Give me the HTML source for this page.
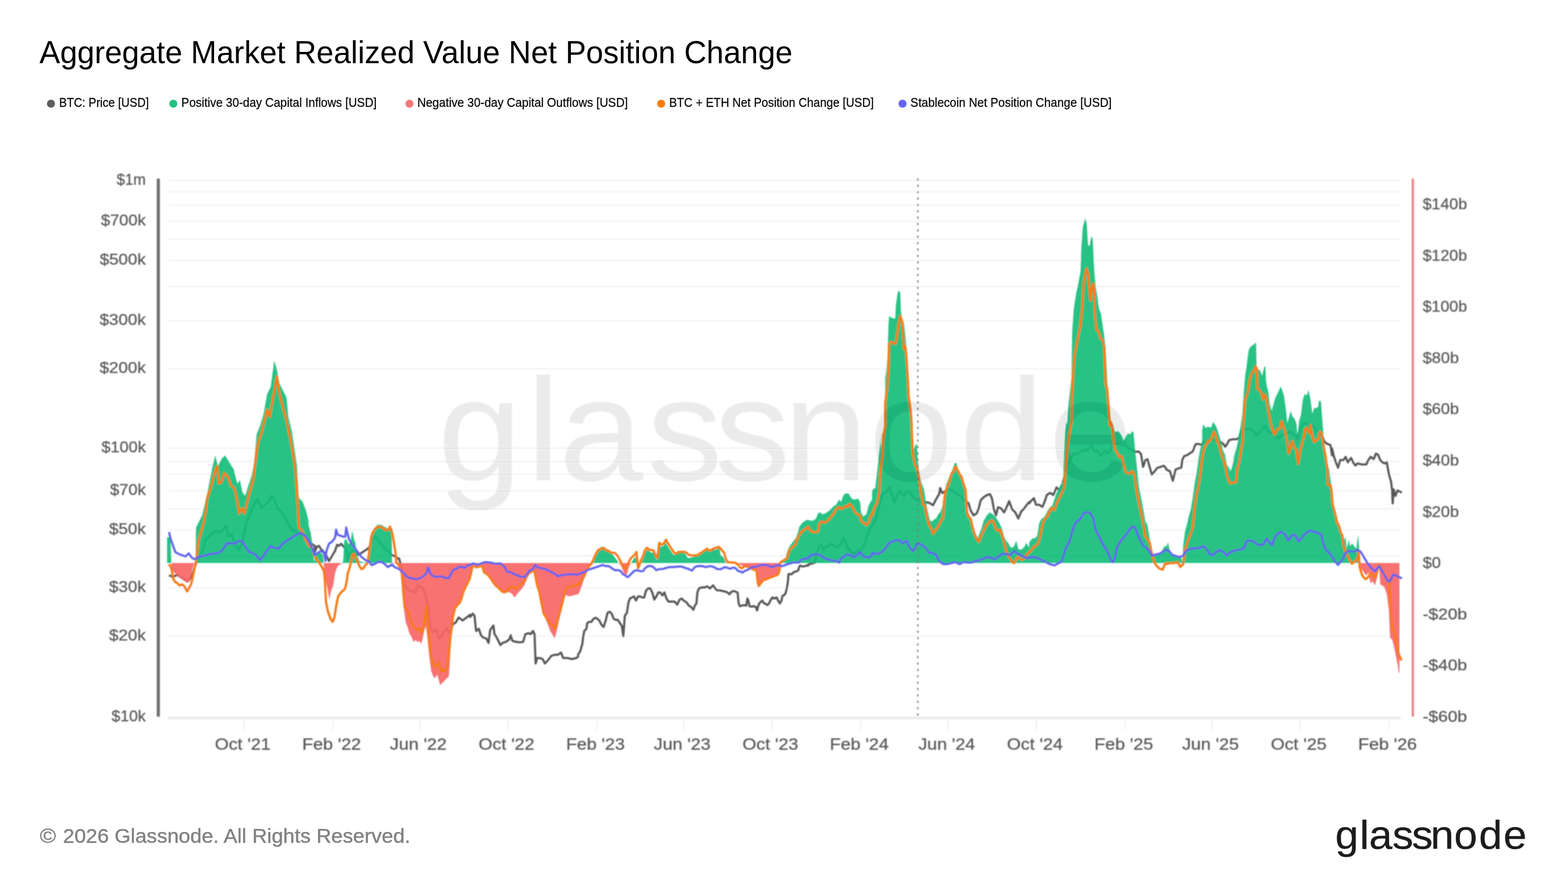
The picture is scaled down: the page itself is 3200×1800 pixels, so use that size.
<!DOCTYPE html><html><head><meta charset="utf-8"><style>html,body{margin:0;padding:0;background:#fff;}svg{display:block;}</style></head><body><svg width="3200" height="1800" viewBox="0 0 3200 1800">
<rect width="3200" height="1800" fill="#ffffff"/>
<text x="80.5" y="129.2" font-family="Liberation Sans, sans-serif" font-size="64.8" fill="#000" textLength="1537" lengthAdjust="spacingAndGlyphs">Aggregate Market Realized Value Net Position Change</text>
<circle cx="104" cy="211.6" r="8.2" fill="#5d5d5d"/>
<text x="120.7" y="217.7" font-family="Liberation Sans, sans-serif" font-size="25" fill="#0a0a0a" stroke="#0a0a0a" stroke-width="0.35" textLength="183.0" lengthAdjust="spacingAndGlyphs">BTC: Price [USD]</text>
<circle cx="353.8" cy="211.6" r="8.2" fill="#22c283"/>
<text x="370.1" y="217.7" font-family="Liberation Sans, sans-serif" font-size="25" fill="#0a0a0a" stroke="#0a0a0a" stroke-width="0.35" textLength="398.6" lengthAdjust="spacingAndGlyphs">Positive 30-day Capital Inflows [USD]</text>
<circle cx="835.7" cy="211.6" r="8.2" fill="#f27a7a"/>
<text x="851.7" y="217.7" font-family="Liberation Sans, sans-serif" font-size="25" fill="#0a0a0a" stroke="#0a0a0a" stroke-width="0.35" textLength="429.7" lengthAdjust="spacingAndGlyphs">Negative 30-day Capital Outflows [USD]</text>
<circle cx="1349.3" cy="211.6" r="8.2" fill="#fb7a12"/>
<text x="1365.7" y="217.7" font-family="Liberation Sans, sans-serif" font-size="25" fill="#0a0a0a" stroke="#0a0a0a" stroke-width="0.35" textLength="417.6" lengthAdjust="spacingAndGlyphs">BTC + ETH Net Position Change [USD]</text>
<circle cx="1841.9" cy="211.6" r="8.2" fill="#6464ee"/>
<text x="1858.1" y="217.7" font-family="Liberation Sans, sans-serif" font-size="25" fill="#0a0a0a" stroke="#0a0a0a" stroke-width="0.35" textLength="410.6" lengthAdjust="spacingAndGlyphs">Stablecoin Net Position Change [USD]</text>
<defs><filter id="bl" filterUnits="userSpaceOnUse" x="150" y="300" width="2950" height="1280"><feGaussianBlur stdDeviation="1.0"/></filter></defs><g filter="url(#bl)">
<line x1="343.5" x2="2859.5" y1="1463.2" y2="1463.2" stroke="#eff0f4" stroke-width="2.4"/>
<line x1="343.5" x2="2859.5" y1="1298.4" y2="1298.4" stroke="#eff0f4" stroke-width="2.4"/>
<line x1="343.5" x2="2859.5" y1="1199.5" y2="1199.5" stroke="#eff0f4" stroke-width="2.4"/>
<line x1="343.5" x2="2859.5" y1="1134.3" y2="1134.3" stroke="#eff0f4" stroke-width="2.4"/>
<line x1="343.5" x2="2859.5" y1="1081.1" y2="1081.1" stroke="#eff0f4" stroke-width="2.4"/>
<line x1="343.5" x2="2859.5" y1="1038.2" y2="1038.2" stroke="#eff0f4" stroke-width="2.4"/>
<line x1="343.5" x2="2859.5" y1="1001.9" y2="1001.9" stroke="#eff0f4" stroke-width="2.4"/>
<line x1="343.5" x2="2859.5" y1="967.9" y2="967.9" stroke="#eff0f4" stroke-width="2.4"/>
<line x1="343.5" x2="2859.5" y1="941.8" y2="941.8" stroke="#eff0f4" stroke-width="2.4"/>
<line x1="343.5" x2="2859.5" y1="914.5" y2="914.5" stroke="#eff0f4" stroke-width="2.4"/>
<line x1="343.5" x2="2859.5" y1="752.6" y2="752.6" stroke="#eff0f4" stroke-width="2.4"/>
<line x1="343.5" x2="2859.5" y1="654.9" y2="654.9" stroke="#eff0f4" stroke-width="2.4"/>
<line x1="343.5" x2="2859.5" y1="584.7" y2="584.7" stroke="#eff0f4" stroke-width="2.4"/>
<line x1="343.5" x2="2859.5" y1="531.8" y2="531.8" stroke="#eff0f4" stroke-width="2.4"/>
<line x1="343.5" x2="2859.5" y1="488.3" y2="488.3" stroke="#eff0f4" stroke-width="2.4"/>
<line x1="343.5" x2="2859.5" y1="451.7" y2="451.7" stroke="#eff0f4" stroke-width="2.4"/>
<line x1="343.5" x2="2859.5" y1="418.4" y2="418.4" stroke="#eff0f4" stroke-width="2.4"/>
<line x1="343.5" x2="2859.5" y1="391.6" y2="391.6" stroke="#eff0f4" stroke-width="2.4"/>
<line x1="343.5" x2="2859.5" y1="368.2" y2="368.2" stroke="#eff0f4" stroke-width="2.4"/>
<line x1="343.5" x2="2858" y1="1465.8" y2="1465.8" stroke="#e9eaef" stroke-width="4"/>
<line x1="498.4" x2="498.4" y1="1467" y2="1490" stroke="#e9eaef" stroke-width="2"/>
<text x="495.4" y="1530" text-anchor="middle" font-family="Liberation Sans, sans-serif" font-size="33" fill="#5a5a5a" stroke="#5a5a5a" stroke-width="0.45" textLength="113.9" lengthAdjust="spacingAndGlyphs">Oct '21</text>
<line x1="679.8" x2="679.8" y1="1467" y2="1490" stroke="#e9eaef" stroke-width="2"/>
<text x="676.8" y="1530" text-anchor="middle" font-family="Liberation Sans, sans-serif" font-size="33" fill="#5a5a5a" stroke="#5a5a5a" stroke-width="0.45" textLength="120.0" lengthAdjust="spacingAndGlyphs">Feb '22</text>
<line x1="856.8" x2="856.8" y1="1467" y2="1490" stroke="#e9eaef" stroke-width="2"/>
<text x="853.8" y="1530" text-anchor="middle" font-family="Liberation Sans, sans-serif" font-size="33" fill="#5a5a5a" stroke="#5a5a5a" stroke-width="0.45" textLength="115.9" lengthAdjust="spacingAndGlyphs">Jun '22</text>
<line x1="1036.8" x2="1036.8" y1="1467" y2="1490" stroke="#e9eaef" stroke-width="2"/>
<text x="1033.8" y="1530" text-anchor="middle" font-family="Liberation Sans, sans-serif" font-size="33" fill="#5a5a5a" stroke="#5a5a5a" stroke-width="0.45" textLength="113.9" lengthAdjust="spacingAndGlyphs">Oct '22</text>
<line x1="1218.2" x2="1218.2" y1="1467" y2="1490" stroke="#e9eaef" stroke-width="2"/>
<text x="1215.2" y="1530" text-anchor="middle" font-family="Liberation Sans, sans-serif" font-size="33" fill="#5a5a5a" stroke="#5a5a5a" stroke-width="0.45" textLength="120.0" lengthAdjust="spacingAndGlyphs">Feb '23</text>
<line x1="1395.2" x2="1395.2" y1="1467" y2="1490" stroke="#e9eaef" stroke-width="2"/>
<text x="1392.2" y="1530" text-anchor="middle" font-family="Liberation Sans, sans-serif" font-size="33" fill="#5a5a5a" stroke="#5a5a5a" stroke-width="0.45" textLength="115.9" lengthAdjust="spacingAndGlyphs">Jun '23</text>
<line x1="1575.2" x2="1575.2" y1="1467" y2="1490" stroke="#e9eaef" stroke-width="2"/>
<text x="1572.2" y="1530" text-anchor="middle" font-family="Liberation Sans, sans-serif" font-size="33" fill="#5a5a5a" stroke="#5a5a5a" stroke-width="0.45" textLength="113.9" lengthAdjust="spacingAndGlyphs">Oct '23</text>
<line x1="1756.6" x2="1756.6" y1="1467" y2="1490" stroke="#e9eaef" stroke-width="2"/>
<text x="1753.6" y="1530" text-anchor="middle" font-family="Liberation Sans, sans-serif" font-size="33" fill="#5a5a5a" stroke="#5a5a5a" stroke-width="0.45" textLength="120.0" lengthAdjust="spacingAndGlyphs">Feb '24</text>
<line x1="1935.1" x2="1935.1" y1="1467" y2="1490" stroke="#e9eaef" stroke-width="2"/>
<text x="1932.1" y="1530" text-anchor="middle" font-family="Liberation Sans, sans-serif" font-size="33" fill="#5a5a5a" stroke="#5a5a5a" stroke-width="0.45" textLength="115.9" lengthAdjust="spacingAndGlyphs">Jun '24</text>
<line x1="2115.0" x2="2115.0" y1="1467" y2="1490" stroke="#e9eaef" stroke-width="2"/>
<text x="2112.0" y="1530" text-anchor="middle" font-family="Liberation Sans, sans-serif" font-size="33" fill="#5a5a5a" stroke="#5a5a5a" stroke-width="0.45" textLength="113.9" lengthAdjust="spacingAndGlyphs">Oct '24</text>
<line x1="2296.4" x2="2296.4" y1="1467" y2="1490" stroke="#e9eaef" stroke-width="2"/>
<text x="2293.4" y="1530" text-anchor="middle" font-family="Liberation Sans, sans-serif" font-size="33" fill="#5a5a5a" stroke="#5a5a5a" stroke-width="0.45" textLength="120.0" lengthAdjust="spacingAndGlyphs">Feb '25</text>
<line x1="2473.4" x2="2473.4" y1="1467" y2="1490" stroke="#e9eaef" stroke-width="2"/>
<text x="2470.4" y="1530" text-anchor="middle" font-family="Liberation Sans, sans-serif" font-size="33" fill="#5a5a5a" stroke="#5a5a5a" stroke-width="0.45" textLength="115.9" lengthAdjust="spacingAndGlyphs">Jun '25</text>
<line x1="2653.4" x2="2653.4" y1="1467" y2="1490" stroke="#e9eaef" stroke-width="2"/>
<text x="2650.4" y="1530" text-anchor="middle" font-family="Liberation Sans, sans-serif" font-size="33" fill="#5a5a5a" stroke="#5a5a5a" stroke-width="0.45" textLength="113.9" lengthAdjust="spacingAndGlyphs">Oct '25</text>
<line x1="2834.8" x2="2834.8" y1="1467" y2="1490" stroke="#e9eaef" stroke-width="2"/>
<text x="2831.8" y="1530" text-anchor="middle" font-family="Liberation Sans, sans-serif" font-size="33" fill="#5a5a5a" stroke="#5a5a5a" stroke-width="0.45" textLength="120.0" lengthAdjust="spacingAndGlyphs">Feb '26</text>
<text x="297.5" y="376.7" text-anchor="end" font-family="Liberation Sans, sans-serif" font-size="31.5" fill="#5a5a5a" stroke="#5a5a5a" stroke-width="0.45" textLength="59.5" lengthAdjust="spacingAndGlyphs">$1m</text>
<text x="297.5" y="460.2" text-anchor="end" font-family="Liberation Sans, sans-serif" font-size="31.5" fill="#5a5a5a" stroke="#5a5a5a" stroke-width="0.45" textLength="91.5" lengthAdjust="spacingAndGlyphs">$700k</text>
<text x="297.5" y="540.3" text-anchor="end" font-family="Liberation Sans, sans-serif" font-size="31.5" fill="#5a5a5a" stroke="#5a5a5a" stroke-width="0.45" textLength="94.0" lengthAdjust="spacingAndGlyphs">$500k</text>
<text x="297.5" y="663.4" text-anchor="end" font-family="Liberation Sans, sans-serif" font-size="31.5" fill="#5a5a5a" stroke="#5a5a5a" stroke-width="0.45" textLength="94.3" lengthAdjust="spacingAndGlyphs">$300k</text>
<text x="297.5" y="761.1" text-anchor="end" font-family="Liberation Sans, sans-serif" font-size="31.5" fill="#5a5a5a" stroke="#5a5a5a" stroke-width="0.45" textLength="94.3" lengthAdjust="spacingAndGlyphs">$200k</text>
<text x="297.5" y="923.0" text-anchor="end" font-family="Liberation Sans, sans-serif" font-size="31.5" fill="#5a5a5a" stroke="#5a5a5a" stroke-width="0.45" textLength="90.5" lengthAdjust="spacingAndGlyphs">$100k</text>
<text x="297.5" y="1010.4" text-anchor="end" font-family="Liberation Sans, sans-serif" font-size="31.5" fill="#5a5a5a" stroke="#5a5a5a" stroke-width="0.45" textLength="73.0" lengthAdjust="spacingAndGlyphs">$70k</text>
<text x="297.5" y="1089.6" text-anchor="end" font-family="Liberation Sans, sans-serif" font-size="31.5" fill="#5a5a5a" stroke="#5a5a5a" stroke-width="0.45" textLength="75.0" lengthAdjust="spacingAndGlyphs">$50k</text>
<text x="297.5" y="1208.0" text-anchor="end" font-family="Liberation Sans, sans-serif" font-size="31.5" fill="#5a5a5a" stroke="#5a5a5a" stroke-width="0.45" textLength="75.0" lengthAdjust="spacingAndGlyphs">$30k</text>
<text x="297.5" y="1306.9" text-anchor="end" font-family="Liberation Sans, sans-serif" font-size="31.5" fill="#5a5a5a" stroke="#5a5a5a" stroke-width="0.45" textLength="75.0" lengthAdjust="spacingAndGlyphs">$20k</text>
<text x="297.5" y="1471.7" text-anchor="end" font-family="Liberation Sans, sans-serif" font-size="31.5" fill="#5a5a5a" stroke="#5a5a5a" stroke-width="0.45" textLength="70.0" lengthAdjust="spacingAndGlyphs">$10k</text>
<text x="2903.5" y="426.9" font-family="Liberation Sans, sans-serif" font-size="31" fill="#5a5a5a" stroke="#5a5a5a" stroke-width="0.45" textLength="90.5" lengthAdjust="spacingAndGlyphs">$140b</text>
<text x="2903.5" y="531.5" font-family="Liberation Sans, sans-serif" font-size="31" fill="#5a5a5a" stroke="#5a5a5a" stroke-width="0.45" textLength="90.5" lengthAdjust="spacingAndGlyphs">$120b</text>
<text x="2903.5" y="636.1" font-family="Liberation Sans, sans-serif" font-size="31" fill="#5a5a5a" stroke="#5a5a5a" stroke-width="0.45" textLength="90.5" lengthAdjust="spacingAndGlyphs">$100b</text>
<text x="2903.5" y="740.7" font-family="Liberation Sans, sans-serif" font-size="31" fill="#5a5a5a" stroke="#5a5a5a" stroke-width="0.45" textLength="74.0" lengthAdjust="spacingAndGlyphs">$80b</text>
<text x="2903.5" y="845.3" font-family="Liberation Sans, sans-serif" font-size="31" fill="#5a5a5a" stroke="#5a5a5a" stroke-width="0.45" textLength="74.0" lengthAdjust="spacingAndGlyphs">$60b</text>
<text x="2903.5" y="949.9" font-family="Liberation Sans, sans-serif" font-size="31" fill="#5a5a5a" stroke="#5a5a5a" stroke-width="0.45" textLength="74.0" lengthAdjust="spacingAndGlyphs">$40b</text>
<text x="2903.5" y="1054.5" font-family="Liberation Sans, sans-serif" font-size="31" fill="#5a5a5a" stroke="#5a5a5a" stroke-width="0.45" textLength="74.0" lengthAdjust="spacingAndGlyphs">$20b</text>
<text x="2903.5" y="1159.1" font-family="Liberation Sans, sans-serif" font-size="31" fill="#5a5a5a" stroke="#5a5a5a" stroke-width="0.45" textLength="37.0" lengthAdjust="spacingAndGlyphs">$0</text>
<text x="2903.5" y="1263.7" font-family="Liberation Sans, sans-serif" font-size="31" fill="#5a5a5a" stroke="#5a5a5a" stroke-width="0.45" textLength="90.5" lengthAdjust="spacingAndGlyphs">-$20b</text>
<text x="2903.5" y="1368.3" font-family="Liberation Sans, sans-serif" font-size="31" fill="#5a5a5a" stroke="#5a5a5a" stroke-width="0.45" textLength="90.5" lengthAdjust="spacingAndGlyphs">-$40b</text>
<text x="2903.5" y="1472.9" font-family="Liberation Sans, sans-serif" font-size="31" fill="#5a5a5a" stroke="#5a5a5a" stroke-width="0.45" textLength="90.5" lengthAdjust="spacingAndGlyphs">-$60b</text>
<defs><clipPath id="cpPos"><rect x="330" y="300" width="2540" height="849.0"/></clipPath><clipPath id="cpNeg"><rect x="330" y="1149.0" width="2540" height="400"/></clipPath></defs>
<path d="M345 1173.9L351.5 1177.1L362.3 1173.5L373 1180.7L383.8 1186.1L391 1177.1L401.7 1144.8L412.5 1126.9L419.7 1101.8L426.9 1094.6L434 1087.4L441.2 1083.9L448.4 1087.4L455.6 1080.3L460.9 1073.1L466.3 1094.6L473.5 1091L480.7 1112.6L487.8 1123.3L495 1105.4L502.2 1069.5L509.4 1051.6L516.5 1033.6L525.5 1019.3L534.5 1037.2L541.7 1030L548.8 1022.9L554.2 1012.1L559.6 1019.3L566.8 1037.2L573.9 1044.4L581.1 1055.2L588.3 1069.5L595.5 1080.3L602.6 1083.9L613.4 1091L624.2 1098.2L634.9 1109L642.5 1114L642.5 1126.1L646.6 1115.9L650.7 1113.9L654.8 1120.1L659 1124.2L665.2 1132.5L671.4 1144.9L677.6 1134.6L683.8 1124.2L688 1111.8L692.1 1113.9L696.3 1109.7L701.4 1115.9L706.6 1120.1L709.7 1142.9L712.8 1132.5L719 1124.2L725.2 1126.3L731.4 1132.5L737.7 1128.4L743.9 1124.2L750.1 1120.1L754.2 1115.9L760.4 1099.4L766.6 1095.2L774.9 1107.7L783.2 1115.9L791.5 1124.2L799.8 1132.5L808.1 1136.6L814.3 1140.8L814.5 1141.3L814.5 1139.8L820 1160L824 1190.1L830 1200.1L836 1206.1L840 1206.1L848.1 1210.1L852.1 1194.1L858.1 1198.1L864.1 1202.1L870.1 1220.1L874.1 1240.1L877.1 1270.2L880.1 1286.2L884.1 1290.2L890.1 1284.2L896.1 1302.2L902.1 1296.2L908.1 1286.2L912.1 1282.2L916.1 1292.2L920.1 1286.2L924.1 1274.2L930.2 1270.2L936.2 1260.2L944.2 1266.2L952.2 1260.2L959.5 1254.5L959.5 1259L959.5 1259L965 1252.4L968.3 1256.8L971.7 1287.7L977.2 1283.3L981.6 1296.6L986 1301L992.6 1303.2L997 1312L1000.4 1285.5L1003.7 1281.1L1007 1276.7L1009.2 1294.3L1012.5 1298.8L1016.9 1307.6L1021.3 1316.4L1025.8 1312L1032.4 1309.8L1039 1305.4L1042.3 1296.6L1045.6 1307.6L1052.3 1309.8L1061.1 1310.9L1067.7 1309.8L1072.1 1294.3L1078.8 1292.1L1083.2 1294.3L1087.6 1287.7L1090.9 1294.3L1093.1 1354L1096.4 1342.9L1100.8 1342.9L1107.5 1345.1L1111.9 1354L1118.5 1347.3L1125.1 1338.5L1131.8 1336.3L1138.4 1336.3L1145 1331.9L1149.4 1342.9L1158.3 1342.9L1167.1 1345.1L1175.9 1342.9L1179.5 1340.6L1180 1335.4L1184.1 1329.2L1188.3 1314.7L1190.4 1298.1L1192.4 1287.7L1196.6 1283.6L1198.6 1271.2L1202.8 1269.1L1206.9 1269.1L1211.1 1262.9L1215.2 1260.8L1219.3 1262.9L1223.5 1267L1227.6 1275.3L1231.8 1279.5L1235.9 1267L1240 1250.5L1244.2 1248.4L1248.3 1252.5L1252.5 1262.9L1256.6 1265L1260.7 1265L1264.9 1271.2L1269 1277.4L1272.1 1298.1L1275.2 1256.7L1279.4 1250.5L1282.5 1229.8L1285.6 1221.5L1289.7 1219.4L1293.9 1217.3L1298 1225.6L1302.2 1217.3L1306.3 1217.3L1310.4 1219.4L1314.6 1219.4L1318.7 1204.9L1322.9 1200.8L1327 1200.8L1331.1 1209.1L1335.3 1223.6L1339.4 1217.3L1343.6 1209.1L1347.7 1209.1L1351.8 1215.3L1356 1209.1L1360.1 1221.5L1364.3 1227.7L1370.5 1227.7L1376.7 1227.7L1381.9 1233.9L1387 1223.6L1391.2 1221.5L1395.3 1225.6L1401.5 1229.8L1405.7 1236L1409.8 1238.1L1415 1244.3L1418.1 1236L1421.2 1231.8L1423.3 1209.1L1426.4 1200.8L1432.6 1198.7L1438.8 1198.7L1442.9 1196.6L1449.2 1200.8L1455.4 1194.6L1459.5 1200.8L1463.6 1204.9L1469.5 1204.9L1470 1205L1474.4 1206.1L1478.8 1207.2L1483.3 1208.3L1488.8 1212.7L1492.1 1208.3L1496.5 1206.1L1500.9 1207.2L1505.3 1209.4L1507.5 1231.5L1509.8 1237L1514.2 1235.9L1518.6 1234.8L1523 1235.9L1525.2 1221.5L1527.4 1225.9L1529.6 1237L1534 1238.1L1538.5 1237L1542.9 1239.2L1545.1 1245.8L1547.3 1237L1549.5 1231.5L1553.9 1227L1556.1 1225.9L1558.3 1230.4L1562.8 1232.6L1566.1 1234.8L1569.4 1231.5L1572.7 1224.8L1576 1219.3L1580.4 1221.5L1584.8 1219.3L1588.2 1225.9L1591.5 1231.5L1594.8 1225.9L1597 1216L1601.4 1213.8L1603.6 1209.4L1605.8 1200.5L1608 1187.3L1609.1 1171.8L1611.3 1171.8L1615.8 1171.8L1620.2 1167.4L1624.6 1166.3L1629 1164.1L1631.2 1156.4L1633.4 1154.2L1637.8 1156.4L1642.3 1155.3L1646.7 1154.2L1649.5 1154.2L1649.5 1152.1L1656.8 1150.2L1663.3 1148.1L1667.5 1126.7L1671.8 1113.9L1676.1 1111.7L1680.4 1122.4L1684.7 1116L1691.1 1113.9L1697.5 1109.6L1703.9 1116L1710.3 1116L1716.7 1109.6L1721 1096.7L1725.3 1105.3L1729.6 1118.1L1736 1124.5L1742.4 1131L1748.8 1124.5L1755.2 1122.4L1761.7 1116L1765.9 1105.3L1770.2 1092.5L1774.5 1079.6L1779.5 1072.9L1780 1070.5L1784.1 1066.3L1788.3 1056L1794.5 1029.1L1800.7 1008.4L1809 1004.2L1815.2 993.9L1821.4 1014.6L1825.5 1024.9L1831.8 1008.4L1838 1002.2L1844.2 1012.5L1850.4 1004.2L1856.6 1002.2L1862.8 1014.6L1871.1 1020.8L1877.3 1020.8L1883.5 1029.1L1891.8 1024.9L1898 1027L1904.2 1031.1L1910.4 1018.7L1916.6 1008.4L1918.7 995.9L1922.9 1006.3L1929.1 1002.2L1937.3 998L1945.6 1002.2L1953.9 1008.4L1962.2 1014.6L1970.5 1022.9L1976.7 1027L1980.8 1041.5L1987 1051.8L1993.3 1047.7L1997.4 1037.3L2001.5 1020.8L2007.7 1014.6L2014 1010.4L2020.2 1008.4L2024.3 1016.6L2028.4 1039.4L2032.6 1051.8L2036.7 1035.3L2042.9 1037.3L2049.2 1045.6L2053.3 1037.3L2059.5 1022.9L2065.7 1039.4L2071.9 1045.6L2078.1 1058.1L2084.3 1043.6L2090.6 1037.3L2094.7 1031.1L2100.1 1024.9L2100.5 1027.1L2103.3 1023.4L2109.9 1016.8L2114.3 1030.1L2120.9 1030.1L2127.5 1034.5L2132 1023.4L2136.4 1010.2L2143 1005.8L2149.6 1010.2L2156.3 994.7L2160.7 999.1L2165.1 1001.3L2169.5 983.7L2178.3 948.3L2185 935.1L2191.6 926.3L2200.4 926.3L2207 919.6L2213.7 919.6L2220.3 917.4L2226.9 908.6L2233.6 921.8L2240.2 919.6L2246.8 930.7L2253.4 919.6L2260.1 926.3L2266.7 917.4L2273.3 904.2L2279.9 906.4L2288.8 908.6L2297.6 908.6L2306.4 917.4L2315.3 921.8L2324.1 921.8L2328.5 926.3L2332.9 952.8L2337.3 939.5L2341.8 937.3L2346.2 952.8L2350.6 968.2L2355 963.8L2361.6 955L2368.3 952.8L2374.9 950.5L2379.5 955.2L2380 958L2387.7 961.8L2393.5 981.2L2399.3 958L2405.1 956L2410.9 954.1L2412.9 938.6L2416.7 930.9L2422.5 929L2428.3 925.1L2434.1 921.3L2437.5 912.8L2437.5 912.2L2440.6 906.1L2446.4 906.1L2452.2 908L2456 902.2L2461.8 900.3L2467.6 896.4L2473.4 894.5L2477.3 898.4L2483.1 898.4L2490.8 902.2L2496.6 906.1L2500.5 911.9L2504.3 906.1L2508.2 898.4L2515.9 896.4L2523.7 896.4L2529.5 892.6L2535.3 877.1L2543 875.2L2550.7 875.2L2558.5 879L2564.3 888.7L2570 882.9L2575.8 875.2L2581.6 869.4L2585.5 877.1L2591.3 882.9L2597.1 884.8L2602.9 888.7L2608.7 894.5L2614.5 888.7L2620.3 886.8L2626.1 884.8L2631.9 881L2637.7 884.8L2643.5 888.7L2648.3 894.5L2653.1 873.2L2658.9 865.5L2664.7 863.6L2670.5 865.5L2676.3 867.4L2682.1 873.2L2687.9 879L2693.7 882.9L2699.5 892.6L2703.4 902.2L2709.2 906.1L2715 908L2718.5 929.2L2718.5 915.1L2721.9 930.2L2726.3 943.5L2730.7 954.5L2735.1 939L2741.7 939L2746.1 932.4L2750.6 943.5L2757.2 934.6L2761.6 943.5L2766 950.1L2770.4 945.7L2779.3 947.9L2788.1 947.9L2792.5 939L2797 932.4L2803.6 936.8L2808 925.8L2812.4 928L2816.8 939L2821.3 943.5L2825.7 945.7L2830.1 943.5L2834.5 967.8L2838.9 983.2L2841.1 1000.9L2842.2 1027.4L2844.4 998.7L2847.8 1011.9L2852.2 1000.9L2856.6 1003.1L2861 1005.3" fill="none" stroke="#56585a" stroke-width="4.4" stroke-linejoin="round"/>
<path d="M341 1149L341 1096.4L347.9 1096.4L349.7 1148.4L350.8 1163.5L360.9 1173.9L371.3 1182.2L379.5 1188.3L383.8 1189.3L388.1 1184.3L392.1 1163.5L396.4 1149.5L398.9 1148.4L400 1076.7L412.5 1051.6L423.3 1004.9L434 951.1L439.4 929.6L444.8 951.1L452 936.8L459.1 929.6L466.3 940.4L477.1 958.3L484.3 987L489.6 979.8L495 1004.9L500.4 1012.1L505.8 994.2L513 972.6L518.3 947.5L523.7 886.5L530.9 868.6L538.1 843.5L545.2 804L552.4 789.7L559.6 735.9L565 753.8L570.4 782.5L577.5 796.9L584.7 811.2L588.3 850.7L595.5 879.4L600.9 915.2L606.2 951.1L609.8 1015.7L617 1022.9L624.2 1040.8L629.5 1062.1L630 1072.5L634.1 1087L638.3 1115.9L641.4 1149.1L642.4 1132.5L646.6 1128.4L652.8 1126.3L659 1132.5L660.6 1149.1L661.1 1165.6L665.2 1186.3L669.3 1207L672.4 1223.6L675.5 1207L679.7 1196.7L683.8 1169.8L688 1157.3L692.1 1153.2L698.3 1149.1L700.4 1144.9L702.5 1103.5L706.6 1099.4L710.7 1109.7L714.9 1107.7L719 1082.8L722.1 1099.4L725.2 1107.7L729.4 1134.6L733.5 1144.9L741.8 1148L750.1 1147L754.2 1134.6L758.4 1093.2L762.5 1082.8L766.6 1074.5L770.8 1070.4L779.1 1071.4L787.3 1076.6L793.6 1078.7L795.6 1074.5L799.5 1078.4L800 1150L806 1150L812 1152L818 1170L820 1200.1L824 1240.1L828 1270.2L832 1280.2L836 1294.2L840 1300.2L844.1 1310.2L848.1 1306.2L852.1 1310.2L856.1 1308.2L859.1 1314.2L862.1 1306.2L866.1 1286.2L869.1 1278.2L872.1 1300.2L876.1 1340.3L880.1 1370.3L884.1 1380.3L888.1 1384.3L892.1 1376.3L896.1 1390.3L898.1 1398.3L902.1 1394.3L906.1 1390.3L912.1 1384.3L916.1 1380.3L918.1 1350.3L920.1 1310.2L924.1 1270.2L928.2 1242.1L934.2 1234.1L940.2 1226.1L944.2 1210.1L950.2 1198.1L956.2 1190.1L959.5 1184.8L959.5 1176.2L961.7 1170.7L963.9 1157.4L967.2 1153L972.8 1155.2L977.2 1153L981.6 1153L986 1159.6L990.4 1168.5L997 1177.3L1003.7 1188.3L1010.3 1197.2L1016.9 1201.6L1023.6 1206L1030.2 1210.4L1036.8 1208.2L1043.4 1210.4L1050.1 1219.3L1056.7 1210.4L1063.3 1203.8L1069.9 1195L1074.3 1183.9L1078.8 1172.9L1085.4 1166.3L1089.8 1157.4L1092 1166.3L1096.4 1192.8L1100.8 1210.4L1105.3 1232.5L1109.7 1254.6L1116.3 1270.1L1122.9 1287.7L1129.6 1298.8L1131.8 1303.2L1136.2 1287.7L1140.6 1267.8L1145 1250.2L1149.4 1232.5L1153.9 1214.8L1162.7 1217L1171.5 1214.8L1179.5 1212.8L1180 1213.2L1184.1 1204.9L1188.3 1192.5L1192.4 1180.1L1196.6 1167.7L1200.7 1159.4L1204.8 1153.2L1209 1149L1213.1 1138.7L1217.3 1128.3L1221.4 1122.1L1227.6 1114.9L1233.8 1120L1240 1124.2L1246.3 1126.3L1252.5 1134.5L1258.7 1142.8L1262.8 1149L1267 1153.2L1271.1 1163.5L1275.2 1175.9L1279.4 1171.8L1283.5 1157.3L1287.7 1149L1291.8 1142.8L1295.9 1136.6L1299 1138.7L1302.2 1149L1304.2 1159.4L1308.4 1149L1312.5 1138.7L1316.6 1126.3L1320.8 1122.1L1324.9 1124.2L1329.1 1128.3L1333.2 1126.3L1337.3 1136.6L1340.5 1142.8L1343.6 1134.5L1345.6 1111.8L1349.8 1115.9L1353.9 1113.8L1358.1 1107.6L1362.2 1113.8L1366.3 1120L1370.5 1126.3L1374.6 1132.5L1380.8 1130.4L1387 1128.3L1393.3 1126.3L1399.5 1130.4L1403.6 1138.7L1407.7 1138.7L1414 1136.6L1420.2 1134.5L1428.4 1128.3L1436.7 1124.2L1442.9 1122.1L1449.2 1124.2L1455.4 1120L1461.6 1122.1L1465.7 1118L1469.5 1121.8L1470 1132.1L1476.6 1137.6L1481 1147.5L1483.3 1149.2L1492.1 1149.3L1503.1 1149.5L1508.6 1150.9L1514.2 1154.2L1519.7 1156.4L1525.2 1157.5L1530.7 1160.8L1536.3 1163L1541.8 1165.2L1544 1171.8L1546.2 1187.3L1548.4 1197.2L1550.6 1196.1L1553.9 1191.7L1557.2 1186.2L1560.5 1185.1L1565 1182.9L1569.4 1180.7L1573.8 1178.5L1578.2 1176.3L1582.6 1175.2L1587 1172.9L1590.4 1167.4L1591.5 1159.7L1592.6 1152L1593.7 1149L1602.5 1143.1L1604.7 1132.1L1608 1121L1611.3 1115.5L1613.5 1110.1L1613.5 1112.3L1614.1 1111.7L1618.3 1105.3L1624.8 1096.7L1629 1083.9L1631.2 1075.3L1637.6 1066.8L1644 1062.5L1648.3 1060.4L1652.6 1062.5L1659 1062.5L1665.4 1058.2L1669.7 1047.5L1674 1045.4L1678.2 1049.7L1684.7 1047.5L1691.1 1043.3L1695.3 1039L1701.8 1032.6L1706 1030.4L1712.5 1019.7L1716.7 1024L1721 1011.2L1725.3 1006.9L1731.7 1006.9L1738.1 1017.6L1744.5 1019.7L1751 1017.6L1755.2 1024L1757.4 1045.4L1761.7 1054L1768.1 1049.7L1772.4 1032.6L1776.6 1024L1779.5 1020.2L1780 1000.1L1786.2 995.9L1792.4 942.1L1796.6 900.7L1797.5 882L1797.5 918L1798 912.8L1802.3 891.4L1806.5 870.4L1806.5 771.5L1806.6 770.5L1808.9 756.8L1811.1 729.5L1813.4 656.6L1814.6 645.2L1818 647.5L1822.5 649.7L1827.1 649.7L1828.2 624.7L1831.6 599.6L1833.9 592.8L1837.3 597.3L1838.5 633.8L1840.8 649.7L1844.2 656.6L1846.5 672.5L1848.7 695.3L1851 729.5L1852.1 752.3L1854.4 797.8L1856.7 820.6L1858.5 847.5L1858.7 880L1862.8 921.4L1867 911.1L1871.1 904.8L1873.2 942.1L1877.3 973.2L1881.4 987.7L1885.6 998L1889.7 1024.9L1893.9 1045.6L1898 1062.2L1902.2 1064.3L1906.3 1060.1L1910.4 1058.1L1914.6 1049.8L1918.7 1045.6L1922.9 1035.3L1927 1008.4L1931.1 987.7L1937.3 973.2L1943.6 958.7L1947.7 946.3L1951.8 944.2L1956 958.7L1960.1 967L1964.3 979.4L1968.4 991.8L1972.5 1008.4L1974.6 1045.6L1978.8 1053.9L1982.9 1062.2L1987 1078.8L1991.2 1089.1L1995.3 1097.4L1999.5 1087L2003.6 1076.7L2007.7 1062.2L2014 1051.8L2020.2 1045.6L2026.4 1049.8L2032.6 1056L2038.8 1066.3L2045 1078.8L2049.2 1095.3L2053.3 1103.6L2057.4 1107.7L2061.6 1116L2065.7 1118.1L2069.9 1114L2074 1103.6L2078.1 1120.2L2082.3 1122.2L2086.4 1120.2L2090.6 1116L2094.7 1107.7L2100.1 1118.1L2100.5 1107.1L2103.3 1102.9L2107.7 1098.5L2112.1 1098.5L2116.5 1094.1L2120.9 1067.6L2125.3 1058.8L2129.8 1056.6L2134.2 1049.9L2138.6 1041.1L2143 1034.5L2147.4 1032.3L2151.8 1019L2156.3 1005.8L2160.7 996.9L2165.1 988.1L2169.5 983.7L2171.7 926.3L2173.9 882.1L2176 861.3L2178 866.9L2180.3 827.3L2186.6 771.4L2188.1 678.3L2191.2 631.7L2195.9 600.7L2200.5 579L2205.2 554.1L2206.7 507.6L2209.8 464.1L2214.5 445.5L2217.6 454.8L2220.7 501.4L2223.8 501.4L2226.9 482.8L2230 485.9L2233.1 554.1L2236.2 585.2L2239.3 603.8L2242.4 628.6L2247.1 641L2250.2 662.8L2253.3 684.5L2256.4 709.3L2259.5 771.4L2262.6 818L2266.5 857L2266.7 860L2271.1 864.4L2275.5 882.1L2279.9 879.9L2284.3 882.1L2288.8 888.7L2293.2 899.8L2297.6 890.9L2302 884.3L2306.4 886.5L2310.8 879.9L2313.1 882.1L2315.3 904.2L2319.7 948.3L2324.1 992.5L2328.5 1014.6L2332.9 1036.7L2337.3 1063.2L2341.8 1072L2346.2 1098.5L2350.6 1125L2355 1131.6L2363.9 1131.6L2370.5 1125L2377.1 1114L2379.5 1115.2L2380 1116.4L2383.9 1106.8L2387.7 1128L2395.5 1133.8L2403.2 1135.7L2410.9 1137.7L2412.9 1147.3L2414.8 1112.6L2418.6 1083.6L2422.5 1070L2426.4 1052.7L2430.2 1039.1L2434.1 1015.9L2438 987L2441.8 967.6L2445.7 938.6L2449.6 915.5L2453.4 900L2453.5 876.9L2456 865.5L2459.9 873.2L2463.8 871.3L2467.6 871.3L2471.5 873.2L2475.4 861.6L2479.2 865.5L2483.1 873.2L2487 884.8L2490.8 898.4L2492.5 904.2L2492.5 902.1L2495.9 919.3L2499.8 927.1L2503.7 948.3L2507.5 954.1L2511.4 961.8L2515.3 950.2L2519.1 929L2523 915.5L2526.5 901.4L2526.5 897L2527.5 888.7L2531.4 873.2L2535.3 846.2L2537.2 815.3L2539.1 792.1L2541.1 767L2544 747.6L2546.9 724.4L2548.8 712.9L2552.7 707.1L2556.5 705.1L2560.4 701.3L2563.3 699.3L2564.3 747.6L2568.1 753.4L2572 757.3L2575.8 767L2579.7 749.6L2582.6 747.6L2583.6 776.6L2585.5 788.2L2588.4 799.8L2591.3 824.9L2595.2 838.5L2599 824.9L2602.9 811.4L2606.8 803.7L2610.6 795.9L2613.5 788.2L2616.4 795.9L2620.3 807.5L2624.2 834.6L2627.1 863.6L2630 853.9L2633.8 838.5L2637.7 850L2641.5 853.9L2645.4 863.6L2648.3 890.6L2651.2 859.7L2655.1 846.2L2658.9 815.3L2662.8 803.7L2666.7 807.5L2670.5 795.9L2674.4 815.3L2678.3 844.3L2682.1 832.7L2686 832.7L2689.9 830.7L2691.8 817.2L2695.7 819.1L2697.6 844.3L2701.4 892.6L2705.3 921.5L2709.2 946.7L2713 960L2713.5 966.7L2715.2 978.8L2717.4 989.9L2719.6 1011.9L2721.9 1034L2726.3 1058.3L2730.7 1073.8L2735.1 1084.8L2739.5 1100L2739.5 1091L2743.9 1102.1L2746.1 1095.5L2748.4 1119.8L2752.8 1102.1L2755 1115.3L2759.4 1108.7L2763.8 1115.3L2768.2 1119.8L2771.6 1091L2773.8 1119.8L2774.9 1148.9L2777.1 1159.5L2783.7 1168.4L2788.1 1175L2792.5 1168.4L2797 1190.4L2801.4 1186L2805.8 1194.9L2810.2 1179.4L2814.6 1155.1L2816.8 1192.7L2821.3 1194.9L2825.7 1199.3L2830.1 1212.5L2834.5 1245.7L2836.7 1300.9L2841.1 1305.3L2845.6 1323L2850 1345.1L2852.2 1356.1L2854.4 1371.6L2856 1374.8L2856 1149Z" fill="#13bd7b" fill-opacity="0.93" clip-path="url(#cpPos)"/>
<path d="M341 1149L341 1096.4L347.9 1096.4L349.7 1148.4L350.8 1163.5L360.9 1173.9L371.3 1182.2L379.5 1188.3L383.8 1189.3L388.1 1184.3L392.1 1163.5L396.4 1149.5L398.9 1148.4L400 1076.7L412.5 1051.6L423.3 1004.9L434 951.1L439.4 929.6L444.8 951.1L452 936.8L459.1 929.6L466.3 940.4L477.1 958.3L484.3 987L489.6 979.8L495 1004.9L500.4 1012.1L505.8 994.2L513 972.6L518.3 947.5L523.7 886.5L530.9 868.6L538.1 843.5L545.2 804L552.4 789.7L559.6 735.9L565 753.8L570.4 782.5L577.5 796.9L584.7 811.2L588.3 850.7L595.5 879.4L600.9 915.2L606.2 951.1L609.8 1015.7L617 1022.9L624.2 1040.8L629.5 1062.1L630 1072.5L634.1 1087L638.3 1115.9L641.4 1149.1L642.4 1132.5L646.6 1128.4L652.8 1126.3L659 1132.5L660.6 1149.1L661.1 1165.6L665.2 1186.3L669.3 1207L672.4 1223.6L675.5 1207L679.7 1196.7L683.8 1169.8L688 1157.3L692.1 1153.2L698.3 1149.1L700.4 1144.9L702.5 1103.5L706.6 1099.4L710.7 1109.7L714.9 1107.7L719 1082.8L722.1 1099.4L725.2 1107.7L729.4 1134.6L733.5 1144.9L741.8 1148L750.1 1147L754.2 1134.6L758.4 1093.2L762.5 1082.8L766.6 1074.5L770.8 1070.4L779.1 1071.4L787.3 1076.6L793.6 1078.7L795.6 1074.5L799.5 1078.4L800 1150L806 1150L812 1152L818 1170L820 1200.1L824 1240.1L828 1270.2L832 1280.2L836 1294.2L840 1300.2L844.1 1310.2L848.1 1306.2L852.1 1310.2L856.1 1308.2L859.1 1314.2L862.1 1306.2L866.1 1286.2L869.1 1278.2L872.1 1300.2L876.1 1340.3L880.1 1370.3L884.1 1380.3L888.1 1384.3L892.1 1376.3L896.1 1390.3L898.1 1398.3L902.1 1394.3L906.1 1390.3L912.1 1384.3L916.1 1380.3L918.1 1350.3L920.1 1310.2L924.1 1270.2L928.2 1242.1L934.2 1234.1L940.2 1226.1L944.2 1210.1L950.2 1198.1L956.2 1190.1L959.5 1184.8L959.5 1176.2L961.7 1170.7L963.9 1157.4L967.2 1153L972.8 1155.2L977.2 1153L981.6 1153L986 1159.6L990.4 1168.5L997 1177.3L1003.7 1188.3L1010.3 1197.2L1016.9 1201.6L1023.6 1206L1030.2 1210.4L1036.8 1208.2L1043.4 1210.4L1050.1 1219.3L1056.7 1210.4L1063.3 1203.8L1069.9 1195L1074.3 1183.9L1078.8 1172.9L1085.4 1166.3L1089.8 1157.4L1092 1166.3L1096.4 1192.8L1100.8 1210.4L1105.3 1232.5L1109.7 1254.6L1116.3 1270.1L1122.9 1287.7L1129.6 1298.8L1131.8 1303.2L1136.2 1287.7L1140.6 1267.8L1145 1250.2L1149.4 1232.5L1153.9 1214.8L1162.7 1217L1171.5 1214.8L1179.5 1212.8L1180 1213.2L1184.1 1204.9L1188.3 1192.5L1192.4 1180.1L1196.6 1167.7L1200.7 1159.4L1204.8 1153.2L1209 1149L1213.1 1138.7L1217.3 1128.3L1221.4 1122.1L1227.6 1114.9L1233.8 1120L1240 1124.2L1246.3 1126.3L1252.5 1134.5L1258.7 1142.8L1262.8 1149L1267 1153.2L1271.1 1163.5L1275.2 1175.9L1279.4 1171.8L1283.5 1157.3L1287.7 1149L1291.8 1142.8L1295.9 1136.6L1299 1138.7L1302.2 1149L1304.2 1159.4L1308.4 1149L1312.5 1138.7L1316.6 1126.3L1320.8 1122.1L1324.9 1124.2L1329.1 1128.3L1333.2 1126.3L1337.3 1136.6L1340.5 1142.8L1343.6 1134.5L1345.6 1111.8L1349.8 1115.9L1353.9 1113.8L1358.1 1107.6L1362.2 1113.8L1366.3 1120L1370.5 1126.3L1374.6 1132.5L1380.8 1130.4L1387 1128.3L1393.3 1126.3L1399.5 1130.4L1403.6 1138.7L1407.7 1138.7L1414 1136.6L1420.2 1134.5L1428.4 1128.3L1436.7 1124.2L1442.9 1122.1L1449.2 1124.2L1455.4 1120L1461.6 1122.1L1465.7 1118L1469.5 1121.8L1470 1132.1L1476.6 1137.6L1481 1147.5L1483.3 1149.2L1492.1 1149.3L1503.1 1149.5L1508.6 1150.9L1514.2 1154.2L1519.7 1156.4L1525.2 1157.5L1530.7 1160.8L1536.3 1163L1541.8 1165.2L1544 1171.8L1546.2 1187.3L1548.4 1197.2L1550.6 1196.1L1553.9 1191.7L1557.2 1186.2L1560.5 1185.1L1565 1182.9L1569.4 1180.7L1573.8 1178.5L1578.2 1176.3L1582.6 1175.2L1587 1172.9L1590.4 1167.4L1591.5 1159.7L1592.6 1152L1593.7 1149L1602.5 1143.1L1604.7 1132.1L1608 1121L1611.3 1115.5L1613.5 1110.1L1613.5 1112.3L1614.1 1111.7L1618.3 1105.3L1624.8 1096.7L1629 1083.9L1631.2 1075.3L1637.6 1066.8L1644 1062.5L1648.3 1060.4L1652.6 1062.5L1659 1062.5L1665.4 1058.2L1669.7 1047.5L1674 1045.4L1678.2 1049.7L1684.7 1047.5L1691.1 1043.3L1695.3 1039L1701.8 1032.6L1706 1030.4L1712.5 1019.7L1716.7 1024L1721 1011.2L1725.3 1006.9L1731.7 1006.9L1738.1 1017.6L1744.5 1019.7L1751 1017.6L1755.2 1024L1757.4 1045.4L1761.7 1054L1768.1 1049.7L1772.4 1032.6L1776.6 1024L1779.5 1020.2L1780 1000.1L1786.2 995.9L1792.4 942.1L1796.6 900.7L1797.5 882L1797.5 918L1798 912.8L1802.3 891.4L1806.5 870.4L1806.5 771.5L1806.6 770.5L1808.9 756.8L1811.1 729.5L1813.4 656.6L1814.6 645.2L1818 647.5L1822.5 649.7L1827.1 649.7L1828.2 624.7L1831.6 599.6L1833.9 592.8L1837.3 597.3L1838.5 633.8L1840.8 649.7L1844.2 656.6L1846.5 672.5L1848.7 695.3L1851 729.5L1852.1 752.3L1854.4 797.8L1856.7 820.6L1858.5 847.5L1858.7 880L1862.8 921.4L1867 911.1L1871.1 904.8L1873.2 942.1L1877.3 973.2L1881.4 987.7L1885.6 998L1889.7 1024.9L1893.9 1045.6L1898 1062.2L1902.2 1064.3L1906.3 1060.1L1910.4 1058.1L1914.6 1049.8L1918.7 1045.6L1922.9 1035.3L1927 1008.4L1931.1 987.7L1937.3 973.2L1943.6 958.7L1947.7 946.3L1951.8 944.2L1956 958.7L1960.1 967L1964.3 979.4L1968.4 991.8L1972.5 1008.4L1974.6 1045.6L1978.8 1053.9L1982.9 1062.2L1987 1078.8L1991.2 1089.1L1995.3 1097.4L1999.5 1087L2003.6 1076.7L2007.7 1062.2L2014 1051.8L2020.2 1045.6L2026.4 1049.8L2032.6 1056L2038.8 1066.3L2045 1078.8L2049.2 1095.3L2053.3 1103.6L2057.4 1107.7L2061.6 1116L2065.7 1118.1L2069.9 1114L2074 1103.6L2078.1 1120.2L2082.3 1122.2L2086.4 1120.2L2090.6 1116L2094.7 1107.7L2100.1 1118.1L2100.5 1107.1L2103.3 1102.9L2107.7 1098.5L2112.1 1098.5L2116.5 1094.1L2120.9 1067.6L2125.3 1058.8L2129.8 1056.6L2134.2 1049.9L2138.6 1041.1L2143 1034.5L2147.4 1032.3L2151.8 1019L2156.3 1005.8L2160.7 996.9L2165.1 988.1L2169.5 983.7L2171.7 926.3L2173.9 882.1L2176 861.3L2178 866.9L2180.3 827.3L2186.6 771.4L2188.1 678.3L2191.2 631.7L2195.9 600.7L2200.5 579L2205.2 554.1L2206.7 507.6L2209.8 464.1L2214.5 445.5L2217.6 454.8L2220.7 501.4L2223.8 501.4L2226.9 482.8L2230 485.9L2233.1 554.1L2236.2 585.2L2239.3 603.8L2242.4 628.6L2247.1 641L2250.2 662.8L2253.3 684.5L2256.4 709.3L2259.5 771.4L2262.6 818L2266.5 857L2266.7 860L2271.1 864.4L2275.5 882.1L2279.9 879.9L2284.3 882.1L2288.8 888.7L2293.2 899.8L2297.6 890.9L2302 884.3L2306.4 886.5L2310.8 879.9L2313.1 882.1L2315.3 904.2L2319.7 948.3L2324.1 992.5L2328.5 1014.6L2332.9 1036.7L2337.3 1063.2L2341.8 1072L2346.2 1098.5L2350.6 1125L2355 1131.6L2363.9 1131.6L2370.5 1125L2377.1 1114L2379.5 1115.2L2380 1116.4L2383.9 1106.8L2387.7 1128L2395.5 1133.8L2403.2 1135.7L2410.9 1137.7L2412.9 1147.3L2414.8 1112.6L2418.6 1083.6L2422.5 1070L2426.4 1052.7L2430.2 1039.1L2434.1 1015.9L2438 987L2441.8 967.6L2445.7 938.6L2449.6 915.5L2453.4 900L2453.5 876.9L2456 865.5L2459.9 873.2L2463.8 871.3L2467.6 871.3L2471.5 873.2L2475.4 861.6L2479.2 865.5L2483.1 873.2L2487 884.8L2490.8 898.4L2492.5 904.2L2492.5 902.1L2495.9 919.3L2499.8 927.1L2503.7 948.3L2507.5 954.1L2511.4 961.8L2515.3 950.2L2519.1 929L2523 915.5L2526.5 901.4L2526.5 897L2527.5 888.7L2531.4 873.2L2535.3 846.2L2537.2 815.3L2539.1 792.1L2541.1 767L2544 747.6L2546.9 724.4L2548.8 712.9L2552.7 707.1L2556.5 705.1L2560.4 701.3L2563.3 699.3L2564.3 747.6L2568.1 753.4L2572 757.3L2575.8 767L2579.7 749.6L2582.6 747.6L2583.6 776.6L2585.5 788.2L2588.4 799.8L2591.3 824.9L2595.2 838.5L2599 824.9L2602.9 811.4L2606.8 803.7L2610.6 795.9L2613.5 788.2L2616.4 795.9L2620.3 807.5L2624.2 834.6L2627.1 863.6L2630 853.9L2633.8 838.5L2637.7 850L2641.5 853.9L2645.4 863.6L2648.3 890.6L2651.2 859.7L2655.1 846.2L2658.9 815.3L2662.8 803.7L2666.7 807.5L2670.5 795.9L2674.4 815.3L2678.3 844.3L2682.1 832.7L2686 832.7L2689.9 830.7L2691.8 817.2L2695.7 819.1L2697.6 844.3L2701.4 892.6L2705.3 921.5L2709.2 946.7L2713 960L2713.5 966.7L2715.2 978.8L2717.4 989.9L2719.6 1011.9L2721.9 1034L2726.3 1058.3L2730.7 1073.8L2735.1 1084.8L2739.5 1100L2739.5 1091L2743.9 1102.1L2746.1 1095.5L2748.4 1119.8L2752.8 1102.1L2755 1115.3L2759.4 1108.7L2763.8 1115.3L2768.2 1119.8L2771.6 1091L2773.8 1119.8L2774.9 1148.9L2777.1 1159.5L2783.7 1168.4L2788.1 1175L2792.5 1168.4L2797 1190.4L2801.4 1186L2805.8 1194.9L2810.2 1179.4L2814.6 1155.1L2816.8 1192.7L2821.3 1194.9L2825.7 1199.3L2830.1 1212.5L2834.5 1245.7L2836.7 1300.9L2841.1 1305.3L2845.6 1323L2850 1345.1L2852.2 1356.1L2854.4 1371.6L2856 1374.8L2856 1149Z" fill="#f96666" fill-opacity="0.92" clip-path="url(#cpNeg)"/>
<path d="M344 1154.6L346.6 1153.1L350.7 1163.5L352.8 1178.9L356.9 1187.2L361 1189.3L366.2 1194.7L371.4 1192.6L376.6 1196.5L381.8 1206.9L385.9 1199.7L390 1192.6L394.2 1173.9L397.3 1158.5L400.4 1143L404.5 1106.5L408.7 1091L416.1 1065.9L423.3 1015.7L430.4 994.2L437.6 965.5L443 951.1L446.6 987L452 983.4L457.4 965.5L464.5 972.6L471.7 990.6L478.9 997.8L484.3 1022.9L487.8 1048L493.2 1037.2L498.6 1048L504 1026.5L509.4 1004.9L516.5 979.8L523.7 922.4L527.3 900.9L532.7 886.5L538.1 865L545.2 836.3L550.6 850.7L556 818.4L561.4 789.7L565 768.2L570.4 804L577.5 832.7L584.7 857.8L591.9 893.7L597.3 922.4L602.6 958.3L606.2 1004.9L609.8 1076.7L617 1083.9L624.2 1101.8L629.5 1112.5L630 1113.9L636.2 1115.9L642.4 1134.6L646.6 1142.9L650.7 1147L656.9 1157.3L661.1 1165.6L663.1 1186.3L665.2 1227.7L669.3 1248.4L674.5 1262.9L678.7 1269.2L682.8 1258.8L685.9 1238.1L690 1217.4L694.2 1211.2L700.4 1205L704.5 1200.8L707.6 1186.3L709.7 1169.8L712.8 1161.5L715.9 1149.1L719 1132.5L722.1 1130.4L725.2 1138.7L729.4 1144.9L733.5 1155.3L737.7 1161.5L741.8 1159.4L745.9 1153.2L750.1 1149.1L754.2 1120.1L757.3 1097.3L760.4 1087L764.6 1080.7L768.7 1076.6L774.9 1074.5L781.1 1077.6L787.3 1081.8L793.6 1080.7L795.6 1074.5L798.7 1080.7L801.8 1095.2L804.9 1113.9L808.1 1134.6L808.5 1136.1L808.5 1146.7L814 1154L820 1170L822 1190.1L824 1220.1L826 1240.1L830 1244.1L834 1250.1L838 1266.2L842.1 1276.2L848.1 1282.2L852.1 1286.2L856.1 1282.2L860.1 1292.2L864.1 1282.2L868.1 1260.2L871.1 1236.1L873.1 1270.2L876.1 1310.2L880.1 1340.3L884.1 1354.3L888.1 1362.3L892.1 1356.3L896.1 1352.3L900.1 1370.3L904.1 1366.3L908.1 1370.3L912.1 1364.3L916.1 1330.2L920.1 1294.2L924.1 1260.2L928.2 1242.1L932.2 1236.1L938.2 1230.1L942.2 1220.1L946.2 1206.1L952.2 1194.1L959.5 1179.1L959.5 1176.6L960.6 1172.9L963.9 1157.4L967.2 1153L970.5 1157.4L975 1157.4L979.4 1155.2L983.8 1155.2L988.2 1168.5L992.6 1170.7L999.3 1177.3L1005.9 1186.1L1012.5 1195L1019.1 1201.6L1025.8 1208.2L1032.4 1208.2L1039 1199.4L1045.6 1197.2L1052.3 1201.6L1058.9 1197.2L1065.5 1190.5L1072.1 1181.7L1078.8 1170.7L1085.4 1166.3L1089.8 1161.8L1092 1172.9L1096.4 1195L1100.8 1208.2L1105.3 1232.5L1109.7 1252.4L1116.3 1263.4L1122.9 1272.3L1129.6 1278.9L1131.8 1283.3L1136.2 1272.3L1140.6 1254.6L1145 1239.1L1149.4 1221.5L1153.9 1203.8L1160.5 1197.2L1167.1 1197.2L1173.7 1195L1179.5 1191.1L1180 1194.6L1184.1 1188.4L1188.3 1182.2L1192.4 1175.9L1196.6 1165.6L1200.7 1157.3L1204.8 1153.2L1209 1147L1213.1 1136.6L1217.3 1128.3L1221.4 1122.1L1227.6 1120L1231.8 1118L1235.9 1122.1L1242.1 1124.2L1248.3 1128.3L1254.5 1128.3L1260.7 1134.5L1264.9 1142.8L1269 1151.1L1273.2 1157.3L1276.3 1161.4L1279.4 1153.2L1283.5 1147L1287.7 1138.7L1292.8 1134.5L1297 1130.4L1299 1126.3L1302.2 1159.4L1304.2 1155.2L1308.4 1142.8L1312.5 1134.5L1316.6 1122.1L1320.8 1118L1324.9 1122.1L1329.1 1122.1L1334.2 1124.2L1337.3 1132.5L1341.5 1138.7L1345.6 1107.6L1349.8 1111.8L1353.9 1109.7L1357 1105.5L1359.1 1101.4L1362.2 1107.6L1366.3 1113.8L1370.5 1120L1374.6 1126.3L1378.8 1130.4L1385 1126.3L1391.2 1126.3L1397.4 1126.3L1401.5 1128.3L1405.7 1132.5L1411.9 1133.5L1418.1 1133.5L1424.3 1132.5L1430.5 1128.3L1436.7 1124.2L1442.9 1120L1449.2 1124.2L1455.4 1120L1461.6 1118L1466.7 1115.9L1469.5 1119.2L1470 1118.8L1474.4 1124.4L1477.7 1127.7L1479.9 1135.4L1482.1 1143.1L1485.5 1147.5L1489.9 1147.5L1494.3 1148.1L1498.7 1148.1L1503.1 1149.8L1507.5 1154.2L1510.9 1158.6L1514.2 1159.7L1518.6 1156.4L1523 1155.3L1527.4 1157.5L1531.8 1159.7L1536.3 1161.9L1540.7 1163L1544 1165.2L1545.1 1176.3L1546.2 1187.3L1548.4 1196.1L1551.7 1191.7L1555 1187.3L1558.3 1182.9L1562.8 1182.9L1567.2 1180.7L1571.6 1178.5L1576 1177.4L1580.4 1175.2L1584.8 1174L1588.2 1171.8L1590.4 1165.2L1591.5 1157.5L1592 1152L1592.6 1147.5L1597 1145.3L1601.4 1142L1605.8 1139.8L1608 1132.1L1610.2 1124.4L1613.6 1119.9L1618 1116.6L1622.4 1112.2L1624.5 1110.1L1624.5 1103.4L1626.9 1101L1631.2 1092.5L1635.5 1086L1639.7 1081.8L1644 1079.6L1649.4 1075.3L1654.7 1083.9L1659 1086L1665.4 1086L1669.7 1083.9L1671.8 1068.9L1676.1 1064.7L1682.5 1066.8L1688.9 1062.5L1695.3 1056.1L1701.8 1047.5L1706 1039L1712.5 1034.7L1716.7 1039L1721 1036.8L1725.3 1032.6L1729.6 1034.7L1733.9 1028.3L1738.1 1032.6L1742.4 1041.1L1746.7 1047.5L1751 1049.7L1755.2 1051.8L1757.4 1062.5L1761.7 1066.8L1768.1 1071.1L1772.4 1066.8L1776.6 1054L1779.5 1049.7L1780 1051.8L1784.1 1037.3L1790.4 1024.9L1794.5 1004.2L1796.6 962.8L1800.7 931.8L1802.5 886.9L1802.5 900.1L1804.4 880.7L1806.5 870.4L1806.5 821.8L1806.6 820.6L1808.9 804.7L1811.1 786.5L1813.4 752.3L1814.6 702.1L1818 697.6L1822.5 699.9L1827.1 702.1L1829.4 693L1833.9 661.1L1837.3 645.2L1840.8 656.6L1843 679.4L1844.2 711.3L1847.6 706.7L1849.9 729.5L1852.1 763.7L1854.4 809.2L1856.7 825.2L1859 843.4L1860.5 866.2L1860.7 880L1862.8 925.5L1867 948.3L1871.1 954.5L1875.2 973.2L1879.4 1004.2L1883.5 1029.1L1887.7 1033.2L1891.8 1056L1895.9 1070.5L1900.1 1078.8L1904.2 1089.1L1908.4 1082.9L1912.5 1078.8L1916.6 1070.5L1920.8 1062.2L1924.9 1056L1927 1020.8L1929.1 1004.2L1933.2 993.9L1937.3 983.5L1941.5 967L1945.6 962.8L1949.8 952.5L1953.9 958.7L1958.1 967L1962.2 973.2L1966.3 987.7L1970.5 1000.1L1973.6 1045.6L1976.7 1053.9L1980.8 1058.1L1985 1076.7L1989.1 1091.2L1993.3 1099.5L1997.4 1105.7L2001.5 1095.3L2005.7 1087L2009.8 1078.8L2014 1070.5L2020.2 1064.3L2024.3 1062.2L2028.4 1066.3L2032.6 1080.8L2036.7 1082.9L2040.9 1080.8L2045 1091.2L2049.2 1107.7L2053.3 1124.3L2057.4 1132.6L2061.6 1140.9L2065.7 1147.1L2069.9 1149.2L2074 1140.9L2078.1 1136.7L2082.3 1140.9L2086.4 1142.9L2090.6 1138.8L2094.7 1132.6L2100.1 1126.4L2100.5 1127.8L2103.3 1125L2109.9 1116.2L2116.5 1111.8L2120.9 1102.9L2125.3 1080.8L2129.8 1063.2L2138.6 1052.1L2145.2 1036.7L2151.8 1041.1L2156.3 1027.8L2162.9 1014.6L2167.3 1005.8L2171.7 994.7L2173.9 970.4L2176.1 937.3L2178.3 915.2L2182.8 882.1L2187.2 860L2187.5 814.6L2189.7 771.4L2192.8 724.8L2195.9 709.3L2199 693.8L2202.1 678.3L2205.2 662.8L2208.3 631.7L2211.4 579L2214.5 560.4L2217.6 547.9L2220.7 560.4L2223.8 600.7L2225.4 613.1L2228.5 585.2L2231.6 579L2233.1 594.5L2234.7 647.3L2237.8 672.1L2242.4 678.3L2245.5 690.7L2250.2 693.8L2253.3 709.3L2256.4 786.9L2259.5 793.1L2262.6 833.5L2265 869.3L2267 861.3L2268.9 868.8L2271.1 882.1L2273.3 904.2L2275.5 917.4L2279.9 924L2284.3 932.9L2288.8 930.7L2293.2 948.3L2297.6 963.8L2302 966L2306.4 966L2310.8 961.6L2315.3 970.4L2319.7 1001.3L2324.1 1025.6L2328.5 1045.5L2332.9 1067.6L2337.3 1094.1L2341.8 1100.7L2346.2 1107.3L2350.6 1129.4L2355 1144.9L2359.4 1153.7L2366.1 1160.4L2372.7 1162.6L2377.1 1151.5L2379.5 1149.1L2380 1151.2L2387.7 1149.3L2395.5 1149.3L2403.2 1147.3L2409 1157L2414.8 1151.2L2418.6 1122.2L2422.5 1108.7L2428.3 1093.2L2434.1 1077.8L2438 1035.3L2441.8 1008.2L2445.7 994.7L2449.6 967.6L2453.4 934.8L2457.3 915.5L2461.2 907.7L2465 900L2465.5 903.2L2465.7 902.2L2469.6 898.4L2473.4 892.6L2477.3 881L2481.2 888.7L2484.5 902.1L2484.5 900.4L2488.2 909.7L2492.1 925.1L2495.9 936.7L2499.8 946.4L2503.7 969.6L2507.5 981.2L2511.4 987L2515.3 985L2519.1 985L2523 983.1L2524.9 958L2528.8 944.4L2532.7 919.3L2536.5 900.1L2536.5 883.7L2539.1 844.3L2541.1 815.3L2546.9 799.8L2550.7 772.8L2554.6 761.2L2558.5 757.3L2562.3 747.6L2565.2 753.4L2566.2 794L2570 795.9L2573.9 801.7L2577.8 815.3L2581.6 805.6L2585.5 819.1L2589.4 844.3L2593.2 863.6L2597.1 877.1L2601 886.8L2604.8 879L2608.7 875.2L2612.6 873.2L2615.5 859.7L2618.4 869.4L2622.2 879L2626.1 896.4L2630 925.4L2633.8 911.9L2637.7 900.3L2641.5 913.8L2645.4 917.7L2649.3 946.7L2653.1 921.5L2657 906.1L2660.9 892.6L2664.7 873.2L2668.6 877.1L2672.5 884.8L2674.4 867.4L2678.3 892.6L2682.1 902.2L2686 898.4L2689.9 896.4L2693.7 881L2697.6 886.8L2701.4 911.9L2705.3 931.2L2709.2 960L2709.5 988.5L2710.8 989.9L2715.2 989.9L2717.4 1000.9L2719.6 1029.6L2724.1 1045.1L2728.5 1065L2732.9 1073.8L2735.5 1082.9L2735.5 1085.2L2739.5 1093.3L2741.7 1113.1L2746.1 1126.4L2750.6 1135.2L2755 1144.1L2759.4 1150.7L2763.8 1146.3L2768.2 1144.1L2771.6 1135.2L2772.7 1124.2L2774.9 1157.3L2779.3 1172.8L2783.7 1179.4L2788.1 1181.6L2792.5 1177.2L2797 1170.6L2801.4 1175L2805.8 1179.4L2810.2 1168.4L2814.6 1150.7L2819 1157.3L2823.5 1168.4L2827.9 1179.4L2834.5 1190.4L2836.7 1212.5L2838.9 1245.7L2841.1 1278.8L2845.6 1289.9L2850 1311.9L2852.2 1323L2854.4 1334L2858.8 1345.1L2861 1347.3" fill="none" stroke="#f77a12" stroke-width="4.6" stroke-linejoin="round"/>
<path d="M345 1086L348.6 1101.4L358 1126.9L366.2 1131.4L378.7 1135.5L384.9 1129.4L392.1 1138.7L398.3 1141.6L404.5 1136.6L416.1 1134.1L430.4 1130.5L444.8 1128.7L453.8 1123.3L462.7 1109L473.5 1109L480.7 1109L487.8 1103.6L495 1105.4L502.2 1117.9L509.4 1126.9L520.1 1130.5L530.9 1143L538.1 1134.1L545.2 1123.3L552.4 1114.3L559.6 1117.9L568.6 1119.7L577.5 1109L588.3 1101.8L599.1 1094.6L613.4 1087.4L624.2 1094.6L629.5 1103.5L630 1103.5L636.2 1115.9L642.4 1132.5L648.6 1128.4L654.8 1124.2L661.1 1128.4L664.2 1144.9L666.2 1124.2L671.4 1109.7L677.6 1105.6L683.8 1097.3L685.9 1080.7L689 1091.1L694.2 1093.2L700.4 1095.2L704.5 1095.2L706.6 1076.6L709.7 1091.1L712.8 1101.4L719 1111.8L725.2 1120.1L731.4 1128.4L737.7 1136.6L745.9 1142.9L754.2 1147L758.4 1153.2L764.6 1151.1L770.8 1147L779.1 1147L785.3 1151.1L791.5 1157.3L797.7 1153.2L799.5 1153.8L800 1152L806 1158L812 1160L818 1164L822 1168L828 1174.1L832 1178.1L840 1180.1L848.1 1182.1L856.1 1180.1L864.1 1176.1L870.1 1170L874.1 1158L878.1 1170L884.1 1176.1L892.1 1177.1L900.1 1176.1L908.1 1179.1L916.1 1180.1L920.1 1172.1L924.1 1164L932.2 1160L940.2 1156L948.2 1159L954.2 1154L959.5 1152.2L959.5 1153L959.5 1153L966.1 1149.7L972.8 1153L979.4 1150.8L988.2 1147.5L994.8 1147.5L1003.7 1148.6L1012.5 1150.8L1021.3 1149.7L1030.2 1157.4L1034.6 1166.3L1043.4 1168.5L1052.3 1172.9L1061.1 1176.2L1069.9 1178.4L1076.6 1170.7L1081 1164L1087.6 1161.8L1092 1153L1098.6 1158.5L1105.3 1159.6L1114.1 1161.8L1122.9 1166.3L1131.8 1170.7L1138.4 1176.2L1145 1174L1153.9 1172.9L1167.1 1171.8L1175.9 1172.9L1179.5 1172.9L1180 1171.8L1186.2 1169.7L1192.4 1167.7L1198.6 1163.5L1204.8 1161.4L1211.1 1159.4L1217.3 1157.3L1223.5 1155.2L1229.7 1153.2L1235.9 1155.2L1242.1 1155.2L1248.3 1159.4L1254.5 1163.5L1260.7 1163.5L1267 1165.6L1271.1 1171.8L1275.2 1173.9L1281.4 1178L1287.7 1171.8L1293.9 1165.6L1300.1 1163.5L1306.3 1165.6L1312.5 1165.6L1316.6 1159.4L1322.9 1155.2L1329.1 1155.2L1333.2 1157.3L1339.4 1163.5L1345.6 1161.4L1351.8 1161.4L1358.1 1159.4L1366.3 1157.3L1374.6 1157.3L1382.9 1156.3L1391.2 1156.3L1399.5 1159.4L1405.7 1161.4L1411.9 1164.6L1418.1 1157.3L1424.3 1155.2L1432.6 1155.2L1440.9 1157.3L1449.2 1155.2L1457.4 1157.3L1463.6 1161.4L1469.5 1161.4L1470 1161.9L1474.4 1159.7L1478.8 1157.5L1484.4 1158.6L1489.9 1160.8L1495.4 1158.6L1499.8 1158.6L1503.1 1161.9L1506.4 1165.2L1510.9 1166.3L1515.3 1168.5L1519.7 1165.2L1525.2 1163L1529.6 1160.8L1534 1157.5L1538.5 1157.5L1542.9 1156.4L1547.3 1155.3L1551.7 1153.1L1556.1 1153.1L1560.5 1152.5L1565 1153.6L1569.4 1155.3L1573.8 1156.4L1578.2 1157.5L1582.6 1154.2L1587 1153.1L1591.5 1154.2L1595.9 1155.3L1600.3 1154.2L1604.7 1152L1609.1 1150.9L1613.6 1149.8L1618 1148.1L1622.4 1148.1L1626.8 1148.1L1631.2 1147.5L1635.6 1142L1640.1 1140.9L1644.5 1139.8L1649.5 1139.3L1649.5 1138.3L1654.7 1133.1L1661.1 1132L1667.5 1131L1674 1133.1L1680.4 1137.4L1686.8 1140.6L1693.2 1142.7L1699.6 1143.8L1706 1144.9L1712.5 1148.1L1716.7 1139.5L1723.2 1135.2L1729.6 1131L1736 1133.1L1742.4 1137.4L1748.8 1133.1L1755.2 1126.7L1761.7 1135.2L1768.1 1137.4L1774.5 1137.4L1779.5 1132.4L1780 1128.4L1788.3 1130.5L1796.6 1128.4L1804.8 1122.2L1813.1 1109.8L1821.4 1104.6L1829.7 1102.6L1838 1103.6L1842.1 1109.8L1850.4 1103.6L1856.6 1118.1L1862.8 1124.3L1867 1120.2L1871.1 1109.8L1877.3 1109.8L1883.5 1114L1889.7 1118.1L1895.9 1128.4L1904.2 1128.4L1910.4 1132.6L1916.6 1145L1924.9 1151.2L1933.2 1151.2L1941.5 1149.2L1949.8 1147.1L1958.1 1151.2L1966.3 1147.1L1974.6 1148.1L1982.9 1148.1L1991.2 1145L1999.5 1142.9L2007.7 1139.8L2016 1136.7L2024.3 1138.8L2028.4 1141.9L2036.7 1136.7L2045 1130.5L2053.3 1130.5L2061.6 1132.6L2069.9 1124.3L2078.1 1130.5L2086.4 1134.7L2094.7 1138.8L2100.1 1138.8L2100.5 1137.9L2107.7 1136.1L2116.5 1138.3L2125.3 1142.7L2134.2 1147.1L2143 1151.5L2151.8 1153.7L2160.7 1149.3L2167.3 1144.9L2171.7 1129.4L2176.1 1116.2L2182.8 1105.1L2187.2 1089.7L2191.6 1074.2L2196 1065.4L2204.8 1058.8L2211.5 1047.7L2218.1 1045.5L2222.5 1045.5L2226.9 1049.9L2231.3 1058.8L2235.8 1080.8L2242.4 1094.1L2249 1107.3L2255.6 1118.4L2262.3 1129.4L2266.7 1142.7L2271.1 1147.1L2275.5 1138.3L2279.9 1116.2L2286.6 1105.1L2293.2 1096.3L2299.8 1089.7L2306.4 1078.6L2313.1 1074.2L2317.5 1078.6L2321.9 1091.9L2328.5 1105.1L2332.9 1114L2339.6 1118.4L2346.2 1125L2350.6 1133.9L2359.4 1131.6L2368.3 1129.4L2374.9 1125L2379.5 1121.9L2380 1122.2L2385.8 1124.2L2391.6 1131.9L2399.3 1134.8L2407.1 1136.7L2414.8 1133.8L2420.6 1124.2L2428.3 1120.3L2438 1119.3L2447.6 1118.4L2457.3 1114.5L2463.1 1122.2L2468.9 1130L2474.7 1133.8L2480.5 1128L2488.2 1122.2L2495.9 1126.1L2503.7 1133.8L2509.5 1128L2517.2 1124.2L2526.9 1122.2L2534.6 1120.3L2538.5 1118.4L2544.3 1104.8L2550 1102.9L2557.8 1104.8L2565.5 1110.6L2573.2 1112.6L2579 1110.6L2584.8 1099L2590.6 1106.8L2596.4 1112.6L2602.2 1095.2L2608 1089.4L2613.8 1085.5L2621.5 1089.4L2629.3 1102.9L2635.1 1093.2L2642.8 1091.3L2650.5 1104.8L2658.3 1095.2L2666 1087.4L2673.7 1082.6L2681.4 1085.5L2689.2 1087.4L2696.9 1091.3L2700 1108.7L2700.5 1108.7L2704.2 1119.8L2713 1128.6L2721.9 1141.9L2730.7 1152.9L2739.5 1141.9L2746.1 1128.6L2752.8 1124.2L2761.6 1126.4L2770.4 1122L2777.1 1126.4L2783.7 1137.4L2790.3 1148.5L2797 1157.3L2805.8 1166.1L2814.6 1155.1L2823.5 1170.6L2832.3 1186L2836.7 1186L2843.3 1172.8L2850 1175L2854.4 1177.2L2861 1180.5" fill="none" stroke="#5f63ec" stroke-width="4.4" stroke-linejoin="round"/>
<line x1="1873.1" x2="1873.1" y1="364" y2="1463" stroke="#6a6a6a" stroke-width="2.4" stroke-dasharray="4.5 8.5"/>
<text transform="scale(1.040 1)" x="858.9 1032.9 1097.0 1269.5 1402.1 1537.4 1705.0 1883.0 2057.7" y="980" font-family="Liberation Sans, sans-serif" font-size="297.5" fill="#000" fill-opacity="0.08">glassnode</text>
<line x1="323.1" x2="323.1" y1="364.4" y2="1462.5" stroke="#6e7070" stroke-width="6.4"/>
<line x1="2883.3" x2="2883.3" y1="364.5" y2="1462.5" stroke="#f27b7b" stroke-width="4.4"/>
</g>
<text x="81.3" y="1719.9" font-family="Liberation Sans, sans-serif" font-size="41" fill="#808080" stroke="#808080" stroke-width="0.5"><tspan textLength="33" lengthAdjust="spacingAndGlyphs">©</tspan> <tspan x="128.5" textLength="709" lengthAdjust="spacingAndGlyphs">2026 Glassnode. All Rights Reserved.</tspan></text>
<text transform="scale(1.040 1)" x="2620.1 2668.3 2686.5 2732.4 2770.7 2807.3 2853.4 2902.2 2950.2" y="1732.3" font-family="Liberation Sans, sans-serif" font-size="82" fill="#1c1c1c" stroke="#1c1c1c" stroke-width="0.5">glassnode</text>
</svg></body></html>
